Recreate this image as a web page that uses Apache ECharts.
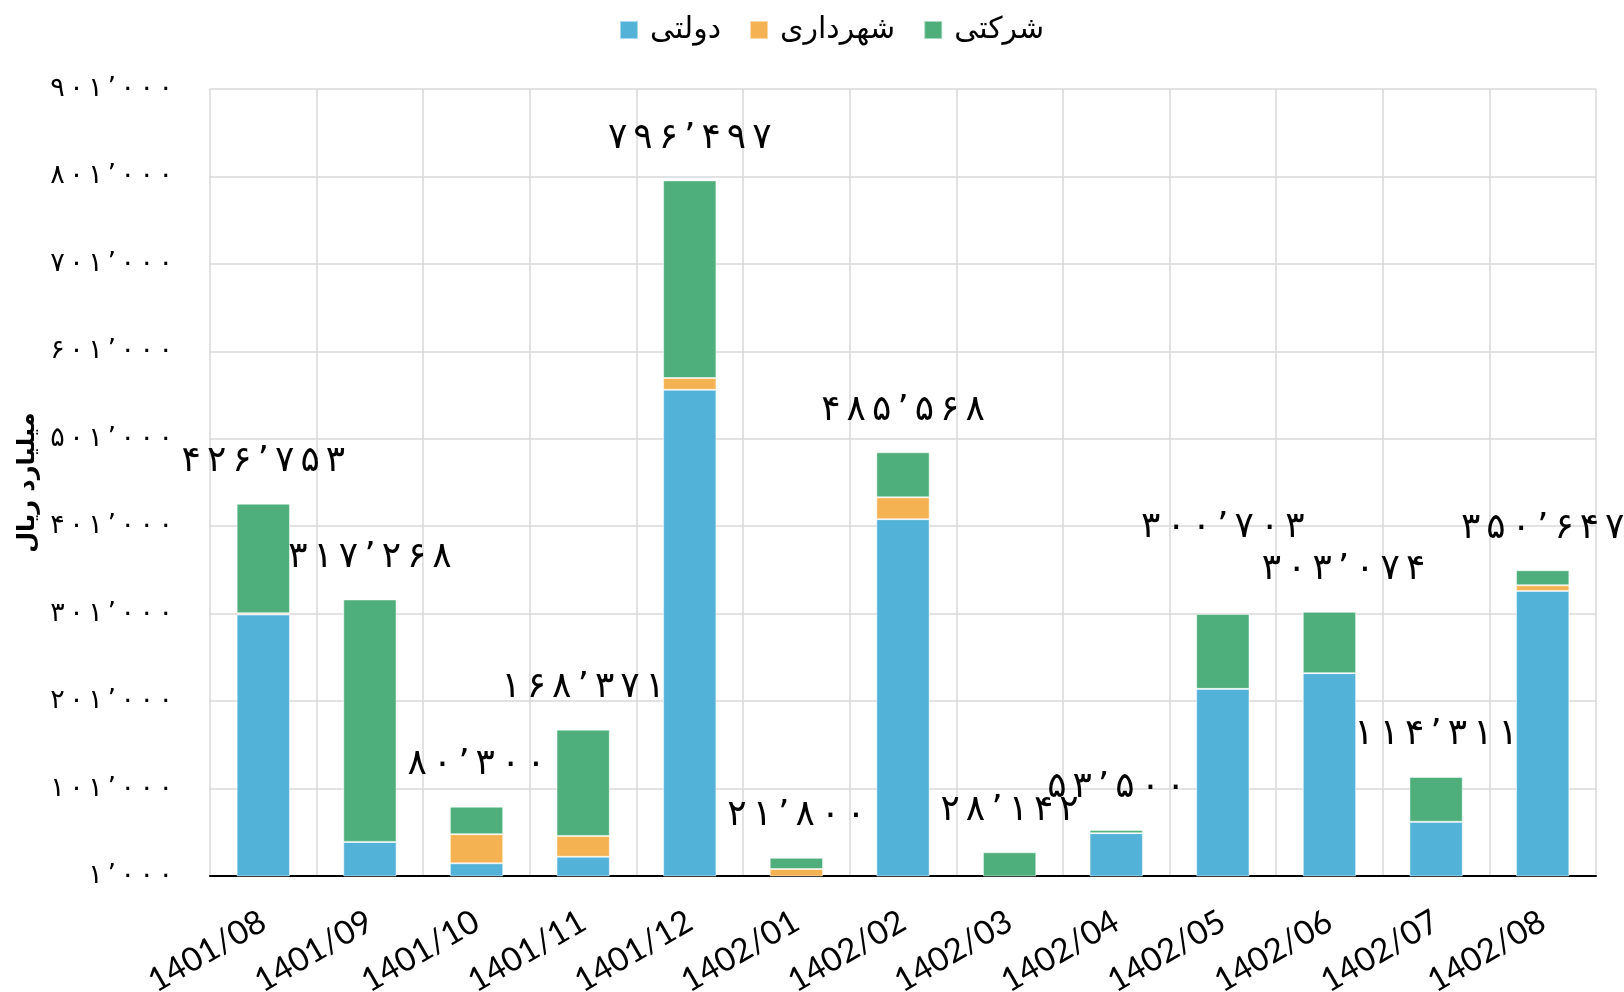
<!DOCTYPE html>
<html>
<head>
<meta charset="utf-8">
<script src="https://cdn.jsdelivr.net/npm/echarts@6/dist/echarts.min.js"></script>
<style>
  html, body { margin: 0; padding: 0; background: #fff; }
  #chart { width: 1624px; height: 992px; }
</style>
</head>
<body>
<div id="chart"></div>
<script>
// Monthly amounts (billion rials) by sector, stacked per month
const months = ['1401/08', '1401/09', '1401/10', '1401/11', '1401/12', '1402/01', '1402/02',
                '1402/03', '1402/04', '1402/05', '1402/06', '1402/07', '1402/08'];
const seriesNames = ['دولتی', 'شهرداری', 'شرکتی'];
const government = [300000, 40000, 15500, 23000, 557000, 0, 409000, 0, 50000, 215000, 233000, 63000, 327000];
const municipal  = [1500, 0, 33300, 23800, 13500, 9000, 25000, 0, 0, 0, 0, 0, 6500];
const corporate  = [125253, 277268, 31500, 121571, 225997, 12800, 51568, 28142, 3500, 85703, 70074, 51311, 17147];
const axisTicks = { min: 1000, max: 901000, step: 100000 };
const axisTitle = 'میلیارد ریال';

const colors = ['#52B2D8', '#F4B252', '#4EAF7C'];
const faDigits = '۰۱۲۳۴۵۶۷۸۹';
const GAP = '\u2006';

// Persian digits with a raised thousands separator, loosely tracked
function toFa(n) {
  const s = String(Math.round(n)).replace(/\B(?=(\d{3})+(?!\d))/g, '’');
  return Array.from(s.replace(/\d/g, d => faDigits[+d])).join(GAP);
}

// Hand-placed total labels (px offsets) to keep neighbours apart
const labelShift = { 9: [0, -44], 10: [14, 0] };

const stackData = [government, municipal, corporate];

const series = stackData.map((arr, i) => ({
  name: seriesNames[i],
  type: 'bar',
  stack: 'total',
  barWidth: '50%',
  data: arr.map((v, k) => (i === 2 && labelShift[k]) ? { value: v, label: { offset: labelShift[k] } } : v),
  itemStyle: { color: colors[i], borderColor: 'rgba(255,255,255,0.5)', borderWidth: 1 },
  emphasis: { disabled: true },
  label: i === 2 ? {
    show: true,
    position: 'top',
    distance: 24,
    color: '#000',
    fontSize: 36,
    fontFamily: 'DejaVu Sans',
    formatter: p => toFa(government[p.dataIndex] + municipal[p.dataIndex] + corporate[p.dataIndex])
  } : { show: false }
}));

const chart = echarts.init(document.getElementById('chart'), null, { renderer: 'canvas' });
chart.setOption({
  animation: false,
  backgroundColor: '#fff',
  legend: {
    top: 10,
    left: 614,
    itemWidth: 18,
    itemHeight: 18,
    itemGap: 28,
    icon: 'rect',
    textStyle: { fontSize: 30, color: '#000', fontFamily: 'DejaVu Sans', padding: [0, 0, 0, 7] }
  },
  grid: { left: 210, right: 28, top: 89, bottom: 116, containLabel: false, outerBoundsMode: 'none' },
  xAxis: {
    type: 'category',
    data: months,
    axisLine: { lineStyle: { color: '#000', width: 2 } },
    axisTick: { show: false },
    splitLine: { show: true, lineStyle: { color: '#d9d9d9', width: 1.5 } },
    axisLabel: {
      rotate: 30,
      margin: 43,
      fontSize: 33,
      color: '#000',
      fontFamily: 'Lato'
    }
  },
  yAxis: {
    type: 'value',
    min: axisTicks.min,
    max: axisTicks.max,
    interval: axisTicks.step,
    name: axisTitle,
    nameLocation: 'middle',
    nameGap: 155,
    nameTextStyle: { fontSize: 24, fontWeight: 'bold', color: '#000', fontFamily: 'DejaVu Sans' },
    axisLine: { show: false },
    axisTick: { show: false },
    splitLine: { lineStyle: { color: '#d9d9d9', width: 1.5 } },
    axisLabel: {
      margin: 37,
      fontSize: 27,
      color: '#000',
      fontFamily: 'DejaVu Sans',
      formatter: v => toFa(v)
    }
  },
  series: series
});
</script>
</body>
</html>
